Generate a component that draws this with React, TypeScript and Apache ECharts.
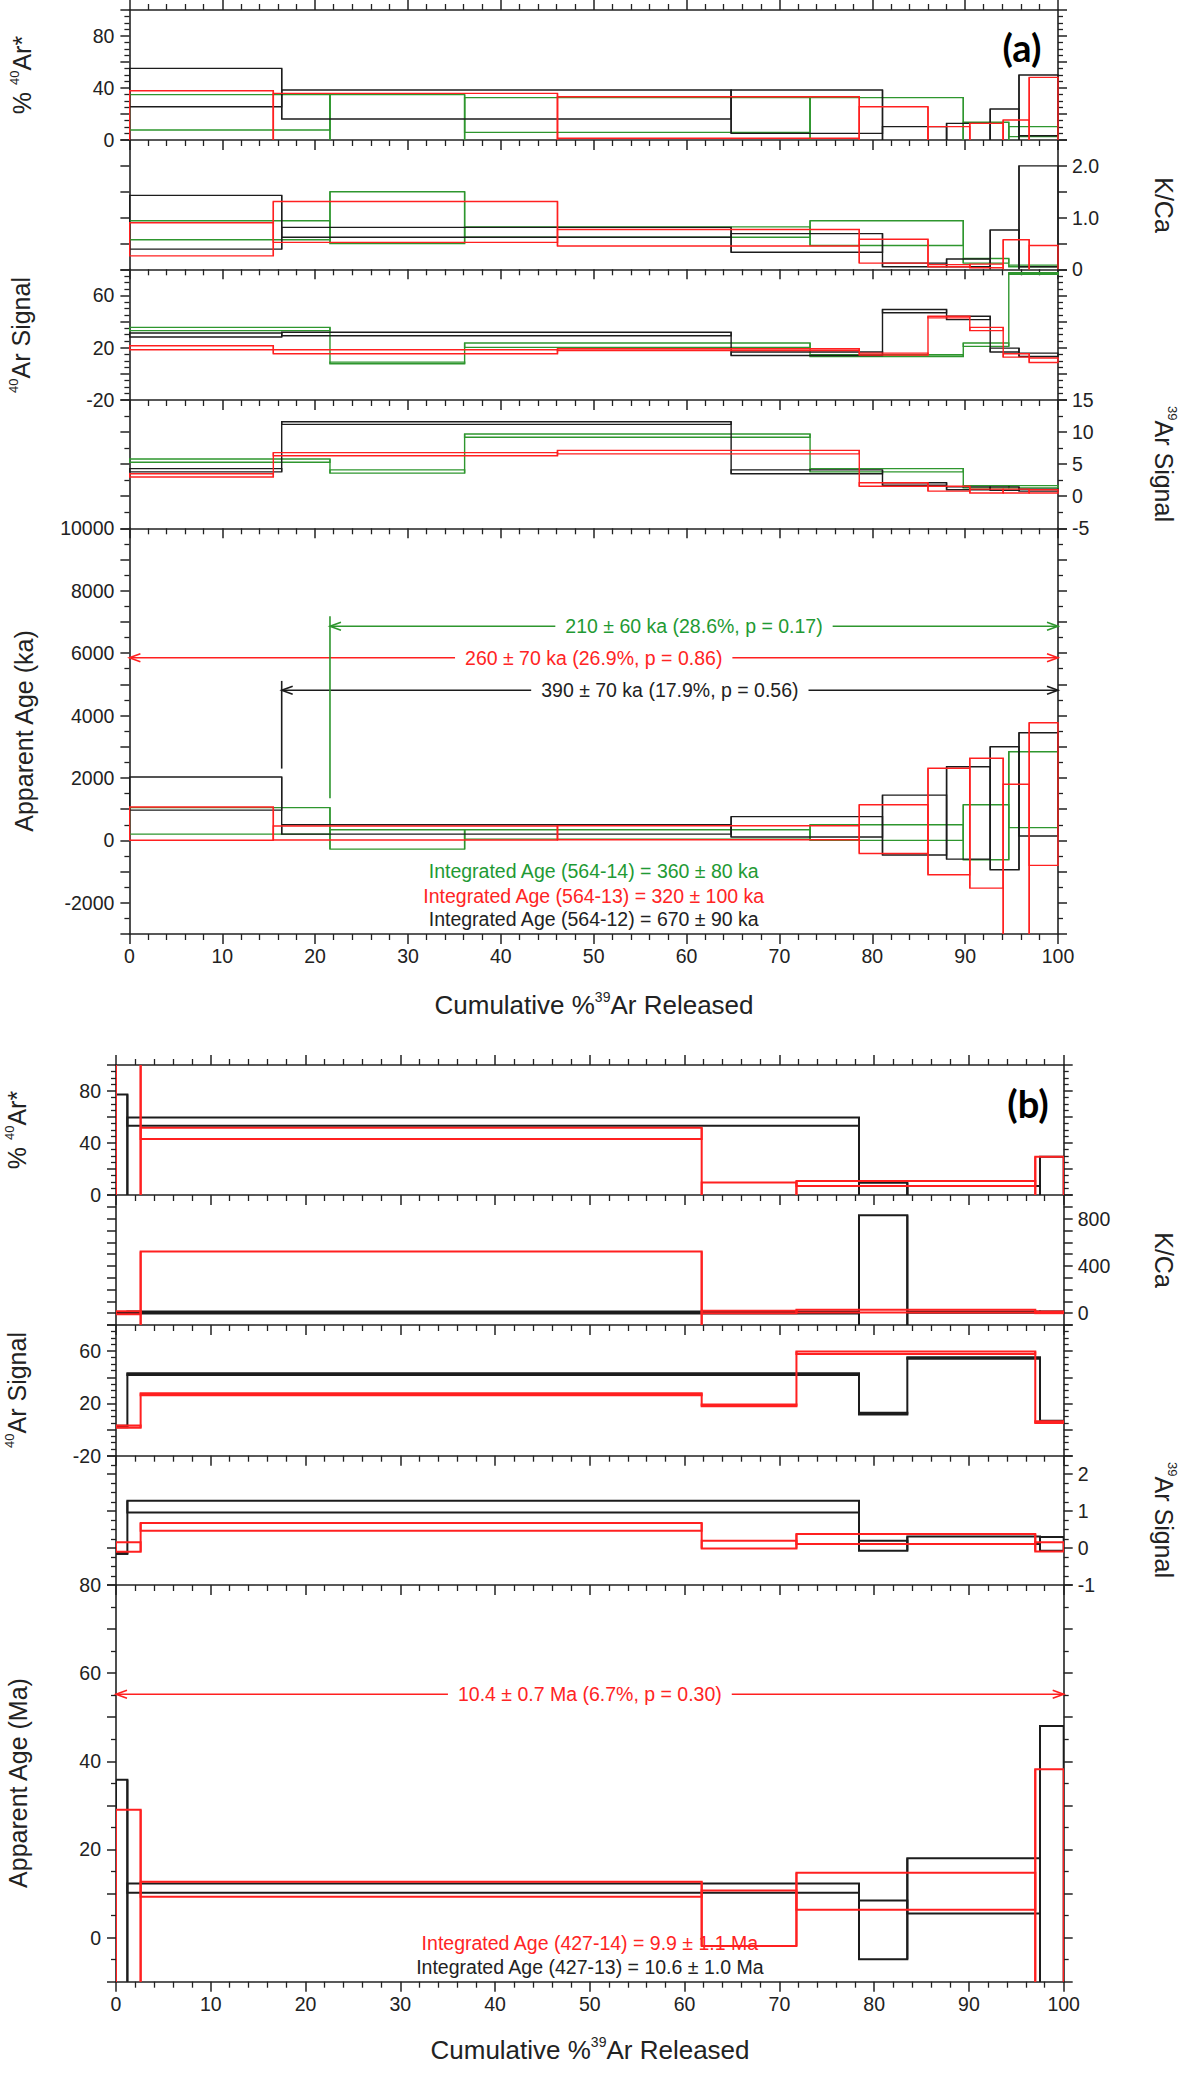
import React, { useEffect, useRef } from 'react';
import * as echarts from 'echarts';

const FONT = "'Liberation Sans', Arial, Helvetica, sans-serif";
const INK = '#222222';
const C_BLACK = '#1c1c1c';
const C_RED = '#ff2020';
const C_GREEN = '#2e962e';
const T_GREEN = '#1f9a34';
const T_RED = '#ff2424';

// ---------------- Panel (a): samples 564-12 (black), 564-13 (red), 564-14 (green)
const A_STEPS_12 = [0, 16.4, 64.8, 81.1, 88.0, 92.7, 95.8, 100];
const A_STEPS_13 = [0, 15.5, 46.1, 78.6, 86.0, 90.5, 94.1, 96.9, 100];
const A_STEPS_14 = [0, 21.6, 36.1, 73.3, 89.8, 94.7, 100];

// [low, high] per step
const A_PCT_12 = [[25.6, 55.1], [16.2, 38.5], [5.1, 38.5], [-3, 10.3], [-3, 12.8], [-3, 23.8], [3.3, 50]];
const A_PCT_13 = [[-3, 37.9], [-3, 35.9], [1.3, 33.3], [-3, 25.6], [-3, 10.3], [-3, 12.8], [-3, 15.4], [-3, 48.2]];
const A_PCT_14 = [[7.7, 34.9], [-3, 34.9], [5.9, 32.6], [-3, 32.6], [-3, 13.6], [2.6, 10.3]];

const A_KCA_12 = [[0.39, 1.43], [0.62, 0.81], [0.33, 0.69], [0.05, 0.12], [0.05, 0.2], [-0.05, 0.76], [0.05, 2.0]];
const A_KCA_13 = [[0.26, 0.9], [0.52, 1.31], [0.45, 0.77], [0.12, 0.58], [0.05, 0.09], [0.03, 0.1], [-0.05, 0.57], [-0.05, 0.46]];
const A_KCA_14 = [[0.57, 0.94], [0.5, 1.5], [0.62, 0.82], [0.46, 0.94], [0.12, 0.21], [0.05, 0.08]];

const A_AR40_12 = [[28.2, 31.3], [29.2, 31.8], [14.1, 16.7], [46.7, 49.2], [41.5, 44.1], [16.7, 19.7], [13.3, 15.9]];
const A_AR40_13 = [[18.5, 21.5], [15.4, 18.5], [17.9, 19.2], [14.4, 15.9], [42.8, 44.1], [33.1, 35.6], [12.8, 15.4], [8.7, 12.1]];
const A_AR40_14 = [[33.1, 35.6], [7.7, 9.0], [20.3, 23.6], [13.3, 14.6], [21.0, 23.6], [76.2, 77.4]];

const A_AR39_12 = [[3.8, 4.3], [11.2, 11.6], [3.5, 4.1], [1.7, 2.1], [1.0, 1.45], [0.93, 1.45], [0.8, 1.1]];
const A_AR39_13 = [[3.0, 3.5], [6.3, 6.8], [6.6, 7.15], [1.55, 2.1], [0.8, 1.55], [0.5, 1.1], [0.5, 1.1], [0.5, 1.0]];
const A_AR39_14 = [[5.3, 5.8], [3.6, 4.1], [9.2, 9.7], [3.8, 4.3], [1.3, 1.65], [1.3, 1.65]];

const A_AGE_12 = [[970, 2030], [200, 500], [110, 760], [-470, 1450], [-600, 2360], [-940, 3000], [140, 3450]];
const A_AGE_13 = [[5, 1070], [10, 460], [20, 470], [-420, 1140], [-1100, 2310], [-1530, 2630], [-4000, 1800], [-800, 3770]];
const A_AGE_14 = [[200, 1050], [-280, 340], [40, 340], [0, 500], [-620, 1140], [410, 2840]];

// plateau arrows [fromX, toX, age]
const A_PLATEAU_14 = [21.6, 100, 6860];
const A_PLATEAU_13 = [0, 100, 5850];
const A_PLATEAU_12 = [16.4, 100, 4810];
// plateau start markers [x, ageLow, ageHigh]
const A_MARK_14 = [21.6, 1350, 7180];
const A_MARK_12 = [16.4, 2300, 5110];
const A_PLATEAU_TEXT = [
  '210 ± 60 ka (28.6%, p = 0.17)',
  '260 ± 70 ka (26.9%, p = 0.86)',
  '390 ± 70 ka (17.9%, p = 0.56)',
];
const A_INTEGRATED_TEXT = [
  'Integrated Age (564-14) = 360 ± 80 ka',
  'Integrated Age (564-13) = 320 ± 100 ka',
  'Integrated Age (564-12) = 670 ± 90 ka',
];
const A_INTEGRATED_POS = [[50, -976], [50, -1773], [50, -2522]];

// ---------------- Panel (b): samples 427-13 (black), 427-14 (red)
const B_STEPS_13 = [0, 1.2, 78.4, 83.5, 97.5, 100];
const B_STEPS_14 = [0, 2.6, 61.8, 71.8, 97.0, 100];

const B_PCT_13 = [[-5, 77.4], [53.3, 59.7], [-2, 9.5], [-2, 7.0], [-2, 29.5]];
const B_PCT_14 = [[-20, 150], [43.1, 51.8], [-2, 9.7], [6.9, 10.8], [-3, 29.5]];

const B_KCA_13 = [[-5, 10], [-3, 14], [-200, 828], [3, 15], [3, 15]];
const B_KCA_14 = [[-8, 17], [-200, 522], [0, 20], [6, 28], [0, 14]];

const B_AR40_13 = [[1.7, 3.0], [41.7, 43.0], [11.5, 12.8], [54.1, 55.4], [5.0, 6.8]];
const B_AR40_14 = [[1.4, 3.2], [26.2, 27.7], [17.9, 19.2], [57.9, 59.7], [5.0, 6.3]];

const B_AR39_13 = [[-0.16, -0.12], [0.96, 1.28], [-0.07, 0.2], [0.11, 0.31], [-0.07, 0.3]];
const B_AR39_14 = [[-0.1, 0.16], [0.47, 0.68], [-0.01, 0.2], [0.11, 0.38], [-0.09, 0.16]];

const B_AGE_13 = [[-20, 35.8], [10.2, 12.3], [-4.9, 8.4], [5.5, 18.0], [-20, 48.0]];
const B_AGE_14 = [[-20, 29.0], [9.3, 12.7], [-1.9, 10.7], [6.3, 14.7], [-20, 38.2]];

const B_PLATEAU_14 = [0, 100, 55.2];
const B_PLATEAU_TEXT = '10.4 ± 0.7 Ma (6.7%, p = 0.30)';
const B_INTEGRATED_TEXT = [
  'Integrated Age (427-14) = 9.9 ± 1.1 Ma',
  'Integrated Age (427-13) = 10.6 ± 1.0 Ma',
];
const B_INTEGRATED_POS = [[50, -1.3], [50, -6.6]];

// ---------------- tick labels
const X_TICKS = [0, 10, 20, 30, 40, 50, 60, 70, 80, 90, 100];
const PCT_TICKS = [0, 40, 80];
const A_KCA_TICKS = [0, 1, 2];
const A_KCA_TICK_TEXT = ['0', '1.0', '2.0'];
const AR40_TICKS = [-20, 20, 60];
const A_AR39_TICKS = [-5, 0, 5, 10, 15];
const A_AGE_TICKS = [-2000, 0, 2000, 4000, 6000, 8000, 10000];
const B_KCA_TICKS = [0, 400, 800];
const B_AR39_TICKS = [-1, 0, 1, 2];
const B_AGE_TICKS = [0, 20, 40, 60, 80];

// each item: [x0, x1, lo, hi, connectorLo, connectorHi]; the connector is the
// vertical edge at x0 spanning this step and the previous one
function boxes(steps: number[], pairs: number[][]) {
  return pairs.map((p, i) => {
    const prev = i > 0 ? pairs[i - 1] : p;
    return [steps[i], steps[i + 1], p[0], p[1], Math.min(p[0], prev[0]), Math.max(p[1], prev[1])];
  });
}

type YSpec = {
  min: number; max: number; interval: number; minor: number;
  ticks: number[]; texts?: string[]; side: 'left' | 'right';
};

const LA = 129.4, WA = 928.6, LB = 116, WB = 947.7;
const GRIDS = [
  { left: LA, width: WA, top: 10, height: 130 },
  { left: LA, width: WA, top: 140, height: 129.3 },
  { left: LA, width: WA, top: 269.3, height: 130.7 },
  { left: LA, width: WA, top: 400, height: 128.3 },
  { left: LA, width: WA, top: 528.3, height: 405.7 },
  { left: LB, width: WB, top: 1065, height: 130 },
  { left: LB, width: WB, top: 1195, height: 130 },
  { left: LB, width: WB, top: 1325, height: 130.7 },
  { left: LB, width: WB, top: 1455.7, height: 129.3 },
  { left: LB, width: WB, top: 1585, height: 396.7 },
];

const YS: YSpec[] = [
  { min: 0, max: 100, interval: 20, minor: 4, ticks: PCT_TICKS, side: 'left' },
  { min: 0, max: 2.5, interval: 0.5, minor: 0, ticks: A_KCA_TICKS, texts: A_KCA_TICK_TEXT, side: 'right' },
  { min: -20, max: 80, interval: 20, minor: 4, ticks: AR40_TICKS, side: 'left' },
  { min: -5, max: 15, interval: 5, minor: 2, ticks: A_AR39_TICKS, side: 'right' },
  { min: -3000, max: 10000, interval: 1000, minor: 2, ticks: A_AGE_TICKS, side: 'left' },
  { min: 0, max: 100, interval: 20, minor: 4, ticks: PCT_TICKS, side: 'left' },
  { min: -100, max: 1000, interval: 100, minor: 0, ticks: B_KCA_TICKS, side: 'right' },
  { min: -20, max: 80, interval: 20, minor: 4, ticks: AR40_TICKS, side: 'left' },
  { min: -1, max: 2.5, interval: 1, minor: 4, ticks: B_AR39_TICKS, side: 'right' },
  { min: -10, max: 80, interval: 10, minor: 2, ticks: B_AGE_TICKS, side: 'left' },
];

const lineStyle = { color: INK, width: 1.6 };
const tickStyle = { color: INK, width: 1.5 };
const minorStyle = { color: INK, width: 1.3 };
const labelBase = { fontSize: 19.5, fontFamily: FONT, color: INK };

function xAxis(i: number, position: 'top' | 'bottom', labels: boolean) {
  return {
    type: 'value', gridIndex: i, min: 0, max: 100, interval: 10, position,
    axisLine: { show: true, onZero: false, lineStyle },
    axisTick: { show: true, inside: false, length: 10, lineStyle: tickStyle },
    minorTick: { show: true, splitNumber: 5, length: 6, lineStyle: minorStyle },
    axisLabel: {
      show: labels, margin: 12, ...labelBase,
      formatter: (v: number) => (X_TICKS.some((t) => Math.abs(t - v) < 1e-6) ? String(v) : ''),
    },
    splitLine: { show: false },
  };
}

function yAxis(i: number, spec: YSpec, position: 'left' | 'right') {
  const showLabels = spec.side === position;
  return {
    type: 'value', gridIndex: i, position, min: spec.min, max: spec.max, interval: spec.interval,
    axisLine: { show: true, onZero: false, lineStyle },
    axisTick: { show: true, inside: false, length: 9, lineStyle: tickStyle },
    minorTick: { show: spec.minor > 0, splitNumber: spec.minor || 2, length: 5, lineStyle: minorStyle },
    axisLabel: {
      show: showLabels, margin: position === 'left' ? 15 : 14, ...labelBase,
      formatter: (v: number) => {
        const k = spec.ticks.findIndex((t) => Math.abs(t - v) < 1e-6);
        if (k < 0) return '';
        return spec.texts ? spec.texts[k] : String(spec.ticks[k]);
      },
    },
    splitLine: { show: false },
  };
}

function boxSeries(i: number, data: number[][], color: string, width: number) {
  return {
    type: 'custom', xAxisIndex: i, yAxisIndex: i * 2, clip: true,
    encode: { x: [0, 1], y: [2, 3] },
    data,
    renderItem: (_p: any, api: any) => {
      const a = api.coord([api.value(0), api.value(3)]);
      const b = api.coord([api.value(1), api.value(2)]);
      const c0 = api.coord([api.value(0), api.value(4)]);
      const c1 = api.coord([api.value(0), api.value(5)]);
      const st = { fill: 'none', stroke: color, lineWidth: width };
      return {
        type: 'group',
        children: [
          { type: 'rect', shape: { x: a[0], y: a[1], width: b[0] - a[0], height: b[1] - a[1] }, style: st },
          { type: 'line', shape: { x1: c0[0], y1: c0[1], x2: c1[0], y2: c1[1] }, style: st },
        ],
      };
    },
  };
}

function arrowSeries(i: number, arr: number[], color: string) {
  return {
    type: 'custom', xAxisIndex: i, yAxisIndex: i * 2, clip: false, z: 5,
    encode: { x: [0, 1], y: 2 },
    data: [arr],
    renderItem: (_p: any, api: any) => {
      const a = api.coord([api.value(0), api.value(2)]);
      const b = api.coord([api.value(1), api.value(2)]);
      const L = 11, W = 4;
      const st = { stroke: color, lineWidth: 1.6, fill: 'none' };
      return {
        type: 'group',
        children: [
          { type: 'line', shape: { x1: a[0], y1: a[1], x2: b[0], y2: b[1] }, style: st },
          { type: 'polyline', shape: { points: [[a[0] + L, a[1] - W], [a[0], a[1]], [a[0] + L, a[1] + W]] }, style: st },
          { type: 'polyline', shape: { points: [[b[0] - L, b[1] - W], [b[0], b[1]], [b[0] - L, b[1] + W]] }, style: st },
        ],
      };
    },
  };
}

function markSeries(i: number, arr: number[], color: string) {
  return {
    type: 'custom', xAxisIndex: i, yAxisIndex: i * 2, clip: false, z: 5,
    encode: { x: 0, y: [1, 2] },
    data: [arr],
    renderItem: (_p: any, api: any) => {
      const a = api.coord([api.value(0), api.value(1)]);
      const b = api.coord([api.value(0), api.value(2)]);
      return {
        type: 'line', shape: { x1: a[0], y1: a[1], x2: b[0], y2: b[1] },
        style: { stroke: color, lineWidth: 1.6 },
      };
    },
  };
}

function textSeries(i: number, pos: number[], text: string, color: string, bg: boolean) {
  return {
    type: 'custom', xAxisIndex: i, yAxisIndex: i * 2, clip: false, z: 6,
    encode: { x: 0, y: 1 },
    data: [pos],
    renderItem: (_p: any, api: any) => {
      const p = api.coord([api.value(0), api.value(1)]);
      return {
        type: 'text', x: p[0], y: p[1],
        style: {
          text, fill: color, fontSize: 19.5, fontFamily: FONT,
          align: 'center', verticalAlign: 'middle',
          backgroundColor: bg ? '#ffffff' : 'transparent',
          padding: bg ? [2, 10] : 0,
        },
      };
    },
  };
}

function richText(main: string, sup: string, rest: string, size: number) {
  return {
    text: `{m|${main}}{s|${sup}}{m|${rest}}`,
    rich: {
      m: { fontSize: size, fontFamily: FONT, fill: INK, lineHeight: size + 4 },
      s: { fontSize: Math.round(size * 0.52), fontFamily: FONT, fill: INK, verticalAlign: 'top', lineHeight: Math.round(size * 0.52) + 2 },
    },
    align: 'center', verticalAlign: 'middle',
  };
}

function title(x: number, y: number, rot: number, main: string, sup: string, rest: string, size = 25) {
  return { type: 'text', x, y, rotation: rot, style: richText(main, sup, rest, size) };
}

function buildOption() {
  const xAxes: any[] = [];
  const yAxes: any[] = [];
  GRIDS.forEach((_, i) => {
    xAxes.push(xAxis(i, 'bottom', i === 4 || i === 9));
  });
  xAxes.push(xAxis(0, 'top', false));
  xAxes.push(xAxis(5, 'top', false));
  YS.forEach((spec, i) => {
    yAxes.push(yAxis(i, spec, 'left'));
    yAxes.push(yAxis(i, spec, 'right'));
  });

  const wA = 1.4, wB = 2.0;
  const series: any[] = [
    boxSeries(0, boxes(A_STEPS_14, A_PCT_14), C_GREEN, wA),
    boxSeries(0, boxes(A_STEPS_12, A_PCT_12), C_BLACK, wA),
    boxSeries(0, boxes(A_STEPS_13, A_PCT_13), C_RED, wA),
    boxSeries(1, boxes(A_STEPS_14, A_KCA_14), C_GREEN, wA),
    boxSeries(1, boxes(A_STEPS_12, A_KCA_12), C_BLACK, wA),
    boxSeries(1, boxes(A_STEPS_13, A_KCA_13), C_RED, wA),
    boxSeries(2, boxes(A_STEPS_14, A_AR40_14), C_GREEN, wA),
    boxSeries(2, boxes(A_STEPS_12, A_AR40_12), C_BLACK, wA),
    boxSeries(2, boxes(A_STEPS_13, A_AR40_13), C_RED, wA),
    boxSeries(3, boxes(A_STEPS_14, A_AR39_14), C_GREEN, wA),
    boxSeries(3, boxes(A_STEPS_12, A_AR39_12), C_BLACK, wA),
    boxSeries(3, boxes(A_STEPS_13, A_AR39_13), C_RED, wA),
    boxSeries(4, boxes(A_STEPS_14, A_AGE_14), C_GREEN, wA),
    boxSeries(4, boxes(A_STEPS_12, A_AGE_12), C_BLACK, wA),
    boxSeries(4, boxes(A_STEPS_13, A_AGE_13), C_RED, wA),

    arrowSeries(4, A_PLATEAU_14, C_GREEN),
    arrowSeries(4, A_PLATEAU_13, C_RED),
    arrowSeries(4, A_PLATEAU_12, C_BLACK),
    markSeries(4, A_MARK_14, C_GREEN),
    markSeries(4, A_MARK_12, C_BLACK),
    textSeries(4, [(A_PLATEAU_14[0] + A_PLATEAU_14[1]) / 2, A_PLATEAU_14[2]], A_PLATEAU_TEXT[0], T_GREEN, true),
    textSeries(4, [(A_PLATEAU_13[0] + A_PLATEAU_13[1]) / 2, A_PLATEAU_13[2]], A_PLATEAU_TEXT[1], T_RED, true),
    textSeries(4, [(A_PLATEAU_12[0] + A_PLATEAU_12[1]) / 2, A_PLATEAU_12[2]], A_PLATEAU_TEXT[2], INK, true),
    textSeries(4, A_INTEGRATED_POS[0], A_INTEGRATED_TEXT[0], T_GREEN, false),
    textSeries(4, A_INTEGRATED_POS[1], A_INTEGRATED_TEXT[1], T_RED, false),
    textSeries(4, A_INTEGRATED_POS[2], A_INTEGRATED_TEXT[2], INK, false),

    boxSeries(5, boxes(B_STEPS_13, B_PCT_13), C_BLACK, wB),
    boxSeries(5, boxes(B_STEPS_14, B_PCT_14), C_RED, wB),
    boxSeries(6, boxes(B_STEPS_13, B_KCA_13), C_BLACK, wB),
    boxSeries(6, boxes(B_STEPS_14, B_KCA_14), C_RED, wB),
    boxSeries(7, boxes(B_STEPS_13, B_AR40_13), C_BLACK, wB),
    boxSeries(7, boxes(B_STEPS_14, B_AR40_14), C_RED, wB),
    boxSeries(8, boxes(B_STEPS_13, B_AR39_13), C_BLACK, wB),
    boxSeries(8, boxes(B_STEPS_14, B_AR39_14), C_RED, wB),
    textSeries(9, B_INTEGRATED_POS[0], B_INTEGRATED_TEXT[0], T_RED, false),
    textSeries(9, B_INTEGRATED_POS[1], B_INTEGRATED_TEXT[1], INK, false),
    boxSeries(9, boxes(B_STEPS_13, B_AGE_13), C_BLACK, wB),
    boxSeries(9, boxes(B_STEPS_14, B_AGE_14), C_RED, wB),
    arrowSeries(9, B_PLATEAU_14, C_RED),
    textSeries(9, [(B_PLATEAU_14[0] + B_PLATEAU_14[1]) / 2, B_PLATEAU_14[2]], B_PLATEAU_TEXT, T_RED, true),
  ];

  const L = Math.PI / 2, R = -Math.PI / 2;
  const graphic: any[] = [
    title(22, 75, L, '% ', '40', 'Ar*'),
    title(21, 335, L, '', '40', 'Ar Signal'),
    title(24, 731, L, 'Apparent Age (ka)', '', ''),
    title(1164, 205, R, 'K/Ca', '', ''),
    title(1164, 464, R, '', '39', 'Ar Signal'),
    title(594, 1005, 0, 'Cumulative %', '39', 'Ar Released', 26),
    title(17, 1130, L, '% ', '40', 'Ar*'),
    title(17, 1390, L, '', '40', 'Ar Signal'),
    title(18, 1783, L, 'Apparent Age (Ma)', '', ''),
    title(1164, 1260, R, 'K/Ca', '', ''),
    title(1164, 1520, R, '', '39', 'Ar Signal'),
    title(590, 2050, 0, 'Cumulative %', '39', 'Ar Released', 26),
    {
      type: 'text', x: 1022, y: 47,
      style: { text: '(a)', fontSize: 38, fontWeight: 'bold', fontFamily: "Lato, 'Open Sans', sans-serif", fill: '#000', align: 'center', verticalAlign: 'middle' },
    },
    {
      type: 'text', x: 1028, y: 1103,
      style: { text: '(b)', fontSize: 38, fontWeight: 'bold', fontFamily: "Lato, 'Open Sans', sans-serif", fill: '#000', align: 'center', verticalAlign: 'middle' },
    },
  ];

  return {
    animation: false,
    backgroundColor: '#ffffff',
    grid: GRIDS.map((g) => ({ ...g, containLabel: false })),
    xAxis: xAxes,
    yAxis: yAxes,
    series,
    graphic,
  };
}

export default function App() {
  const ref = useRef<HTMLDivElement>(null);
  useEffect(() => {
    document.body.style.margin = '0';
    const chart = echarts.init(ref.current as HTMLDivElement, null, { renderer: 'svg', width: 1181, height: 2075 });
    chart.setOption(buildOption() as any);
    return () => chart.dispose();
  }, []);
  return (
    <div
      ref={ref}
      style={{ position: 'absolute', left: 0, top: 0, width: 1181, height: 2075, background: '#fff' }}
    />
  );
}
